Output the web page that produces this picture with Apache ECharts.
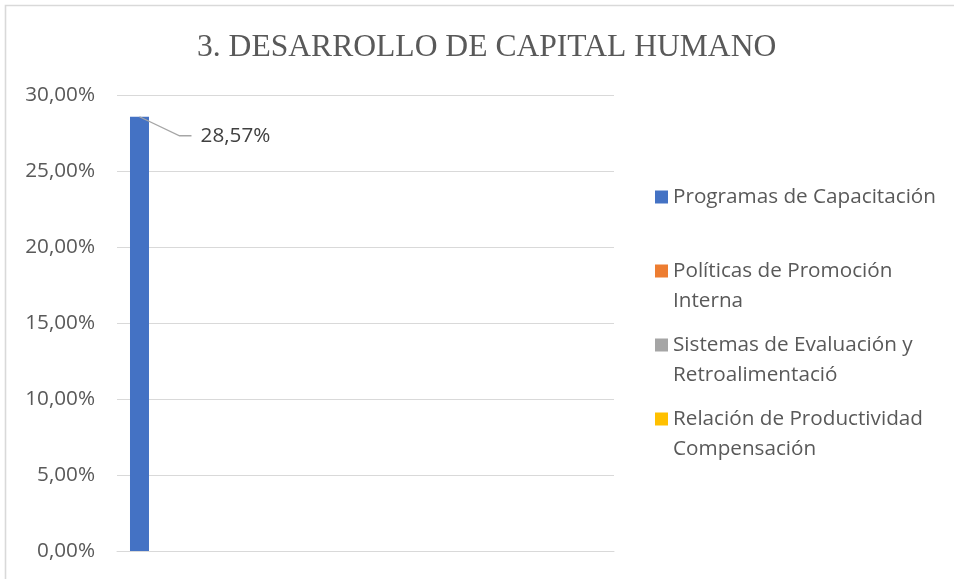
<!DOCTYPE html>
<html>
<head>
<meta charset="utf-8">
<title>3. DESARROLLO DE CAPITAL HUMANO</title>
<script src="https://cdn.jsdelivr.net/npm/echarts@6/dist/echarts.min.js"></script>
<style>
  html, body { margin: 0; padding: 0; background: #fff; }
  #chart { width: 954px; height: 579px; }
</style>
</head>
<body>
<div id="chart"></div>
<script>
// datos
const categories = [''];
const seriesNames = [
  'Programas de Capacitación',
  'Políticas de Promoción Interna',
  'Sistemas de Evaluación y Retroalimentació',
  'Relación de Productividad Compensación'
];
// texto de la leyenda tal como aparece cortado en la imagen
const legendLines = [
  ['Programas de Capacitación'],
  ['Políticas de Promoción', 'Interna'],
  ['Sistemas de Evaluación y', 'Retroalimentació'],
  ['Relación de Productividad', 'Compensación']
];
const seriesValues = [28.57, 0, 0, 0];
const colors = ['#4472C4', '#ED7D31', '#A5A5A5', '#FFC000'];
const yTicks = { min: 0, max: 30, interval: 5 };

const BAR_W = 19;
const BAR_GAP = '693%';
const FONT = "'Open Sans', 'Liberation Sans', sans-serif";
const FONT_SIZE = 20.7;

const fmtPct = (v) => v.toFixed(2).replace('.', ',') + '%';

const chart = echarts.init(document.getElementById('chart'), null, { renderer: 'canvas' });

const barSeries = seriesNames.map((name, i) => ({
  name: name,
  type: 'bar',
  data: [seriesValues[i]],
  barWidth: BAR_W,
  barGap: BAR_GAP,
  itemStyle: { color: colors[i] },
  label: {
    show: seriesValues[i] > 0,
    position: 'top',
    distance: 0,
    offset: [96, 30],
    formatter: (p) => fmtPct(p.value),
    color: '#404040',
    fontSize: FONT_SIZE,
    fontFamily: FONT
  }
}));

// linea guia de la etiqueta (sale del tope de la barra)
const leaderData = seriesValues
  .map((v, i) => [0, v, i])
  .filter((d) => d[1] > 0);

const leaderSeries = {
  type: 'custom',
  silent: true,
  z: 5,
  data: leaderData,
  renderItem: (params, api) => {
    const layout = api.barLayout({ barWidth: BAR_W, barGap: BAR_GAP, count: seriesNames.length });
    const p = api.coord([api.value(0), api.value(1)]);
    const x = p[0] + layout[api.value(2)].offsetCenter;
    const y = p[1];
    return {
      type: 'polyline',
      shape: { points: [[x, y], [x + 40, y + 19], [x + 52, y + 19]] },
      style: { stroke: '#A6A6A6', lineWidth: 1.3, fill: null }
    };
  }
};

const option = {
  backgroundColor: '#fff',
  animation: false,
  title: {
    text: '3. DESARROLLO DE CAPITAL HUMANO',
    left: 192,
    top: 27,
    textStyle: {
      fontFamily: "'Liberation Serif', 'DejaVu Serif', serif",
      fontSize: 31.6,
      fontWeight: 'normal',
      color: '#595959'
    }
  },
  graphic: [{
    type: 'rect',
    silent: true,
    shape: { x: 5.5, y: 5.5, width: 1200, height: 1200 },
    style: { fill: null, stroke: '#D9D9D9', lineWidth: 1.6 }
  }],
  legend: {
    orient: 'vertical',
    left: 655,
    top: 152,
    padding: 0,
    itemWidth: 13,
    itemHeight: 13,
    itemGap: -16,
    icon: 'rect',
    data: seriesNames,
    formatter: (name) => {
      const lines = legendLines[seriesNames.indexOf(name)];
      // linea vacia arriba (y abajo si es de una linea) para que el cuadro quede junto a la primera linea
      return '\n' + lines.join('\n') + (lines.length === 1 ? '\n' : '');
    },
    textStyle: {
      fontFamily: FONT,
      fontSize: FONT_SIZE,
      lineHeight: 30,
      color: '#595959'
    }
  },
  grid: {
    left: 117,
    right: 340,
    top: 95,
    bottom: 28
  },
  xAxis: {
    type: 'category',
    data: categories,
    axisLine: { show: true, lineStyle: { color: '#D9D9D9', width: 1 } },
    axisTick: { show: false },
    axisLabel: { show: false }
  },
  yAxis: {
    type: 'value',
    min: yTicks.min,
    max: yTicks.max,
    interval: yTicks.interval,
    axisLine: { show: false },
    axisTick: { show: false },
    splitLine: { lineStyle: { color: '#D9D9D9', width: 1 } },
    axisLabel: {
      margin: 22,
      formatter: (v) => fmtPct(v),
      color: '#595959',
      fontSize: FONT_SIZE,
      fontFamily: FONT
    }
  },
  series: [...barSeries, leaderSeries]
};

chart.setOption(option);
</script>
</body>
</html>
